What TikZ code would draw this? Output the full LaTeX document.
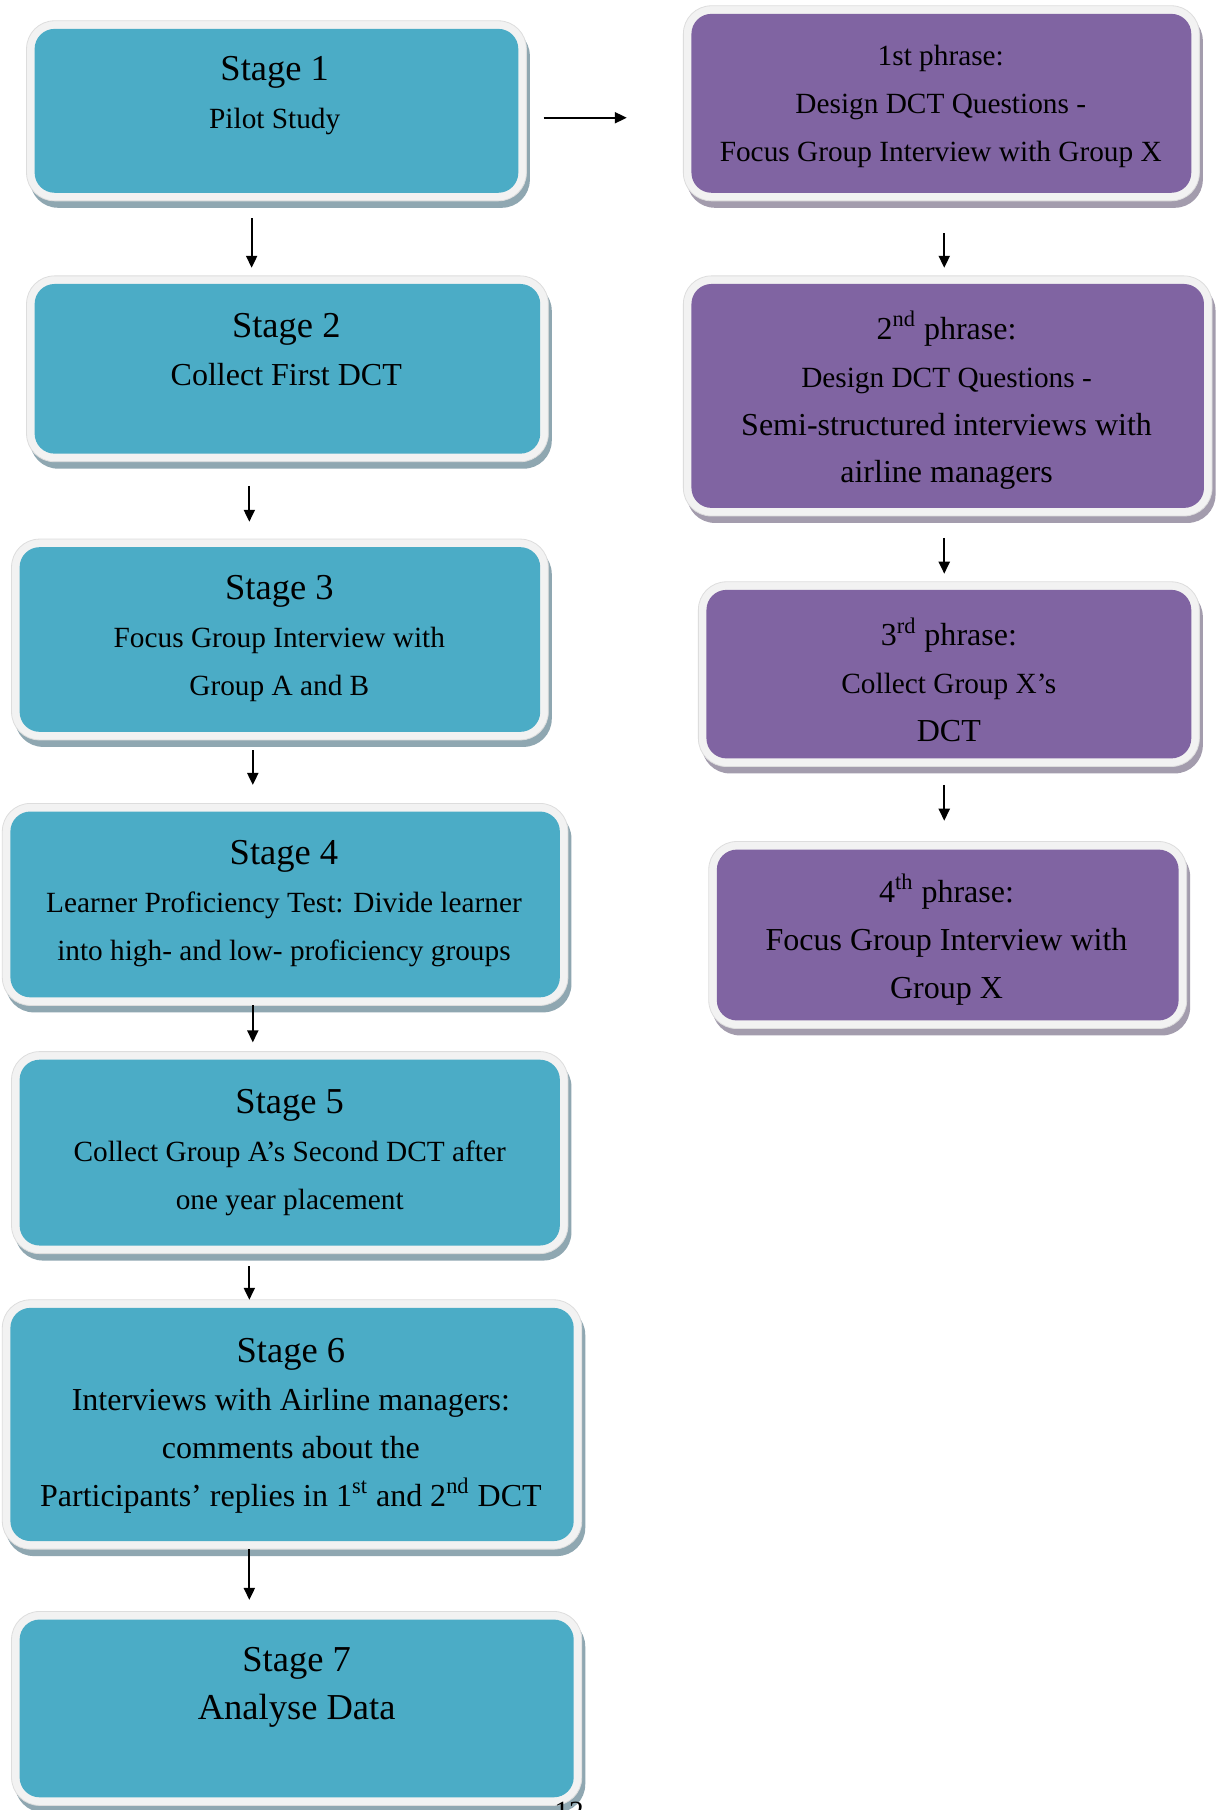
\documentclass[tikz,border=0pt]{standalone}
\usepackage{fontspec}
\setmainfont{Liberation Serif}
\usetikzlibrary{arrows.meta,calc,fit}

\definecolor{stageblue}{HTML}{4BACC6}
\definecolor{phasepurple}{HTML}{8064A2}
\definecolor{rim}{HTML}{F2F2F2}
\definecolor{rimedge}{HTML}{DDDDDD}
\definecolor{blueshadow}{HTML}{8FA7B1}
\definecolor{purpleshadow}{HTML}{A39CAD}

% #1 name, #2 face colour, #3 shadow colour, #4-#7 corners of the coloured face
\newcommand\flowbox[7]{%
  \fill[#3, rounded corners=14pt] ($(#4,#5)+(-4,-1)$) rectangle ($(#6,#7)+(10,13)$);
  \fill[rim, draw=rimedge, line width=0.4pt, rounded corners=14pt]
    ($(#4,#5)+(-7,-7)$) rectangle ($(#6,#7)+(7,7)$);
  \node[fit={(#4,#5) (#6,#7)}, inner sep=0pt, outer sep=0pt,
        fill=#2, rounded corners=10pt] (#1) {};
}
\newcommand\ttl[1]{{\fontsize{18.25}{23.9}\selectfont #1}}
\newcommand\bigtxt[1]{{\fontsize{16}{23.9}\selectfont #1}}

\begin{document}
\begin{tikzpicture}[x=0.577pt, y=-0.577pt,
  arr/.style={line width=1pt, -{Triangle[length=6pt, width=5.5pt]}},
  body/.style={align=center, inner sep=0pt,
               font=\fontsize{14.65}{23.9}\selectfont},
]
\useasboundingbox (0,0) rectangle (1059,1568);
\fill[white] (0,0) rectangle (1059,1568);

% left column: stages
\flowbox{s1}{stageblue}{blueshadow}{30}{25}{449}{167}
\flowbox{s2}{stageblue}{blueshadow}{30}{246}{468}{393}
\flowbox{s3}{stageblue}{blueshadow}{17}{474}{468}{634}
\flowbox{s4}{stageblue}{blueshadow}{9}{703}{485}{864}
\flowbox{s5}{stageblue}{blueshadow}{17}{918}{485}{1079}
\flowbox{s6}{stageblue}{blueshadow}{9}{1133}{497}{1335}
\flowbox{s7}{stageblue}{blueshadow}{17}{1403}{497}{1557}

% right column: phrases
\flowbox{p1}{phasepurple}{purpleshadow}{599}{12}{1032}{167}
\flowbox{p2}{phasepurple}{purpleshadow}{599}{246}{1043}{440}
\flowbox{p3}{phasepurple}{purpleshadow}{612}{511}{1032}{657}
\flowbox{p4}{phasepurple}{purpleshadow}{621}{736}{1021}{884}

% box texts
\node[body] (s1t) at (238,82.5) {\ttl{Stage 1}\\Pilot Study};
\node[body] (s2t) at (248,303) {\ttl{Stage 2}\\\bigtxt{Collect First DCT}};
\node[body] (s3t) at (242,553.3) {\ttl{Stage 3}\\Focus Group Interview with\\Group A and B};
\node[body] (s4t) at (246,782.7) {\ttl{Stage 4}\\Learner Proficiency Test: Divide learner\\into high- and low- proficiency groups};
\node[body] (s5t) at (251,998.7) {\ttl{Stage 5}\\Collect Group A’s Second DCT after\\one year placement};
\node[body] (s6t) at (252,1235) {\ttl{Stage 6}\\\bigtxt{Interviews with Airline managers:}\\\bigtxt{comments about the}\\\bigtxt{Participants’ replies in 1\textsuperscript{st} and 2\textsuperscript{nd} DCT}};
\node[body] (s7t) at (257,1462) {\ttl{Stage 7}\\\ttl{Analyse Data}};

\node[body] (p1t) at (815,92) {1st phrase:\\Design DCT Questions -\\Focus Group Interview with Group X};
\node[body] (p2t) at (820,347) {\bigtxt{2\textsuperscript{nd} phrase:}\\Design DCT Questions -\\\bigtxt{Semi-structured interviews with}\\\bigtxt{airline managers}};
\node[body] (p3t) at (822,589) {\bigtxt{3\textsuperscript{rd} phrase:}\\Collect Group X’s\\\bigtxt{DCT}};
\node[body] (p4t) at (820,814) {\bigtxt{4\textsuperscript{th} phrase:}\\\bigtxt{Focus Group Interview with}\\\bigtxt{Group X}};

% page number at the foot, mostly off the page
\node[body, anchor=base] (pageno) at (493,1578) {12};

% connectors
\draw[arr] ($(s1.south)+(-21.5,22)$) -- ($(s2.north)+(-31,-14)$);
\draw[arr] ($(s2.south)+(-33,28)$) -- ($(s3.north)+(-26.5,-22)$);
\draw[arr] ($(s3.south)+(-23.5,16)$) -- ($(s4.north)+(-28,-23)$);
\draw[arr] ($(s4.south)+(-28,7)$) -- ($(s5.north)+(-32,-15)$);
\draw[arr] ($(s5.south)+(-35,18)$) -- ($(s6.north)+(-37,-7)$);
\draw[arr] ($(s6.south)+(-37,7)$) -- ($(s7.north)+(-41,-17)$);

\draw[arr] ($(s1.east)+(22,6)$) -- ($(p1.west)+(-56,12.5)$);

\draw[arr] ($(p1.south)+(2.5,35)$) -- ($(p2.north)+(-3,-14)$);
\draw[arr] ($(p2.south)+(-3,26)$) -- ($(p3.north)+(-4,-14)$);
\draw[arr] ($(p3.south)+(-4,23)$) -- ($(p4.north)+(-3,-25)$);
\end{tikzpicture}
\end{document}
